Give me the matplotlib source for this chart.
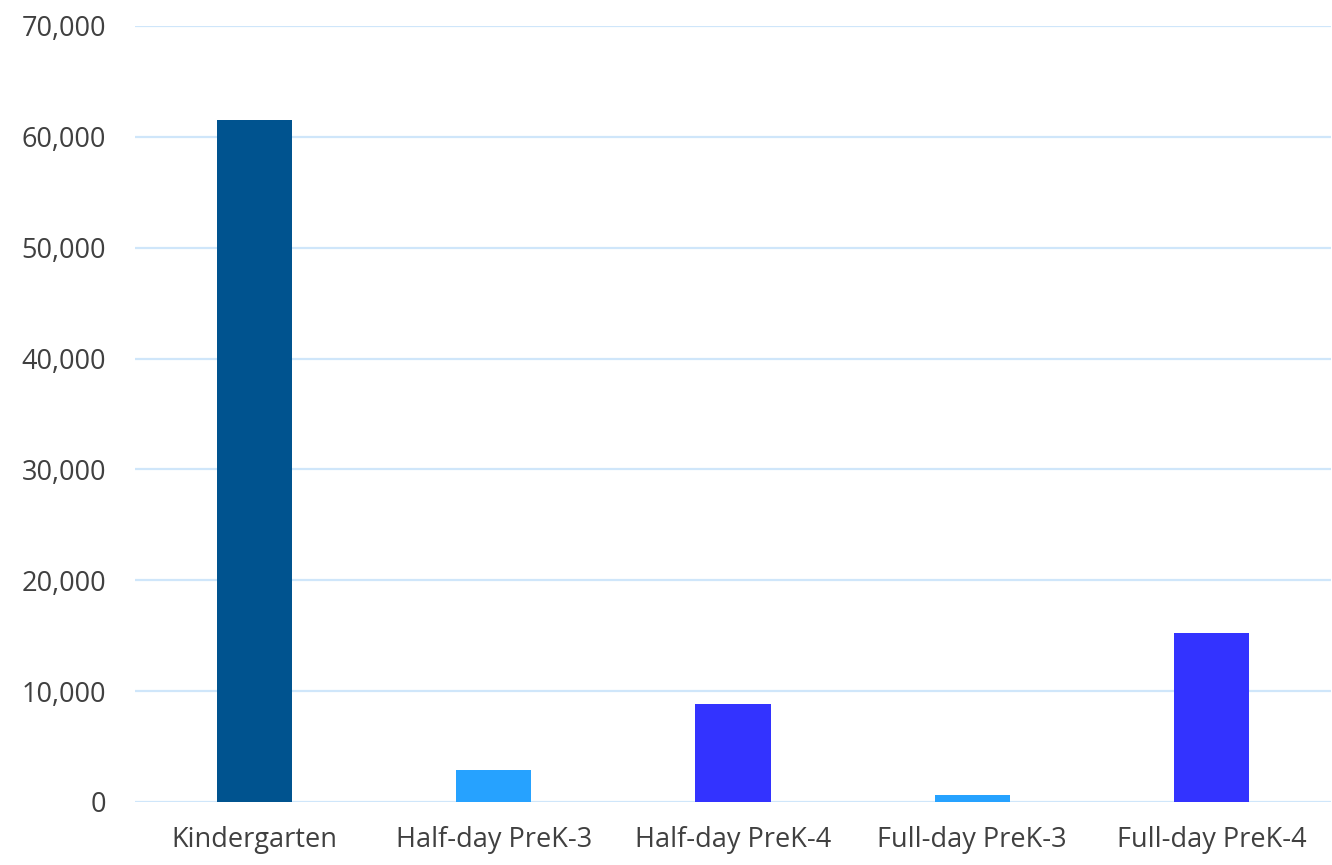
import matplotlib
matplotlib.use("Agg")
import matplotlib.pyplot as plt
from matplotlib.ticker import FuncFormatter

categories = ["Kindergarten", "Half-day PreK-3", "Half-day PreK-4", "Full-day PreK-3", "Full-day PreK-4"]
values = [61500, 2900, 8850, 630, 15250]
colors = ["#00538F", "#26A2FF", "#3333FF", "#26A2FF", "#3333FF"]
yticks = [0, 10000, 20000, 30000, 40000, 50000, 60000, 70000]

plt.rcParams['font.family'] = ['Open Sans', 'DejaVu Sans']

W, H = 1332, 865
fig = plt.figure(figsize=(W/100, H/100), dpi=100)
ax = fig.add_axes([135/W, 1-802/H, (1331-135)/W, (802-26)/H])

x = list(range(len(categories)))
ax.bar(x, values, width=0.315, color=colors, zorder=3)

ax.set_xlim(-0.5, len(categories)-0.5)
ax.set_ylim(0, 70000)
ax.set_yticks(yticks)
ax.yaxis.set_major_formatter(FuncFormatter(lambda v, p: f"{int(v):,}"))
ax.grid(axis='y', color='#CFE6FA', linewidth=1.6, zorder=0)
ax.set_xticks(x)
ax.set_xticklabels(categories)
for s in ax.spines.values():
    s.set_visible(False)
ax.tick_params(axis='both', length=0, labelsize=19.5, colors='#404040')
ax.tick_params(axis='y', pad=21)
ax.tick_params(axis='x', pad=17)
ax.set_axisbelow(True)

fig.savefig("out.png", dpi=100)
